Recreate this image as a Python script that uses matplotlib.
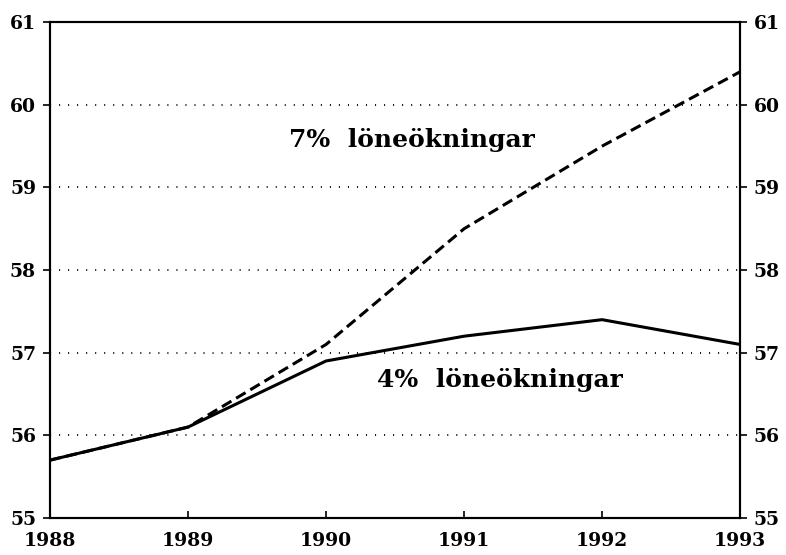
import numpy as np
from matplotlib import pyplot as plt

years = [1988, 1989, 1990, 1991, 1992, 1993]
low = [55.7, 56.1, 56.9, 57.2, 57.4, 57.1]     # 4% löneökningar
high = [55.7, 56.1, 57.1, 58.5, 59.5, 60.4]    # 7% löneökningar
yticks = [55, 56, 57, 58, 59, 60, 61]

plt.rcParams['font.family'] = 'DejaVu Serif'
plt.rcParams['font.weight'] = 'bold'

fig = plt.figure(figsize=(7.86, 5.55), dpi=100)
ax = fig.add_axes([0.0636, 0.0667, 0.878, 0.8933])

for y in yticks[1:-1]:
    ax.axhline(y, color='black', lw=1.3, ls=(0, (0.6, 4.4)), zorder=1)

ax.plot(years, low, color='black', lw=2.2, zorder=3)
ax.plot(years, high, color='black', lw=2.2, ls=(0, (3.6, 1.8)), zorder=3)

ax.text(1990.62, 59.57, '7%  löneökningar', fontsize=18, ha='center', va='center')
ax.text(1991.26, 56.67, '4%  löneökningar', fontsize=18, ha='center', va='center')

ax.set_xlim(1988, 1993)
ax.set_ylim(55, 61)
ax.set_xticks(years)
ax.set_yticks(yticks)
ax.tick_params(axis='x', direction='in', length=5, width=1.2, labelsize=13.5, pad=10)
ax.tick_params(axis='y', direction='out', length=5, width=1.2, labelsize=13.5, pad=5)

ax2 = ax.twinx()
ax2.set_ylim(55, 61)
ax2.set_yticks(yticks)
ax2.tick_params(axis='y', direction='out', length=5, width=1.2, labelsize=13.5, pad=5)

for a in (ax, ax2):
    for s in a.spines.values():
        s.set_linewidth(1.5)

fig.savefig('out.png', dpi=100)
